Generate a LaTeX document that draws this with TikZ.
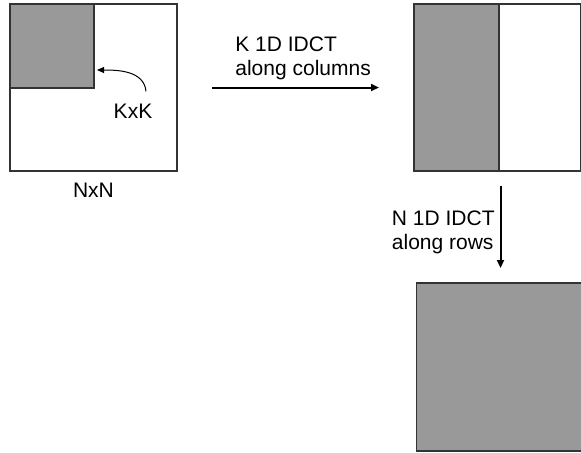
\documentclass[tikz,border=0pt]{standalone}
\usepackage{fontspec}
\setmainfont{Liberation Sans}
\usetikzlibrary{arrows.meta, positioning}

\begin{document}
\begin{tikzpicture}[
    mat/.style={draw=black!80, line width=0.6pt, minimum size=83.5pt, inner sep=0pt, outer sep=0pt},
    blk/.style={draw=black!80, line width=0.6pt, fill=black!40, inner sep=0pt, outer sep=0pt},
    lbl/.style={inner sep=0pt, font=\fontsize{10.5}{12}\selectfont, align=left},
    flow/.style={-{Triangle[length=4pt,width=3.5pt]}, line width=1pt},
  ]
    \clip (0,0) rectangle (290.5pt,-226pt);
    % coefficient block with its kept corner
    \node[mat, anchor=north west] (nxn) at (5pt,-2pt) {};
    \node[blk, anchor=north west, minimum size=42pt] (kxk) at (nxn.north west) {};
    \node[lbl, anchor=base] (kklbl) at (66.5pt,-59.25pt) {KxK};
    \node[lbl, anchor=base] (nnlbl) at ([yshift=-13.25pt]nxn.south) {NxN};
    \draw[-{Triangle[length=3.5pt,width=3pt]}, line width=0.5pt]
        ([xshift=6.5pt,yshift=6.1pt]kklbl.north) to[out=95,in=0] ([xshift=1.5pt,yshift=9pt]kxk.south east);

    % after the column pass
    \node[mat, right=118.5pt of nxn] (cols) {};
    \node[blk, anchor=north west, minimum width=42.5pt, minimum height=83.5pt] (half) at (cols.north west) {};
    \draw[flow] ([xshift=17.5pt]nxn.east) -- ([xshift=-17.5pt]cols.west);
    \node[lbl, anchor=base west] (collbl) at (117.5pt,-37.75pt) {K 1D IDCT\\along columns};

    % after the row pass
    \node[blk, below=56pt of cols, xshift=1.5pt, minimum size=84pt] (rows) {};
    \draw[flow] ([yshift=-7.5pt]rows.north |- cols.south) -- ([yshift=7.5pt]rows.north);
    \node[lbl, anchor=base east] (rowlbl) at (247.5pt,-124.75pt) {N 1D IDCT\\along rows};
\end{tikzpicture}
\end{document}
